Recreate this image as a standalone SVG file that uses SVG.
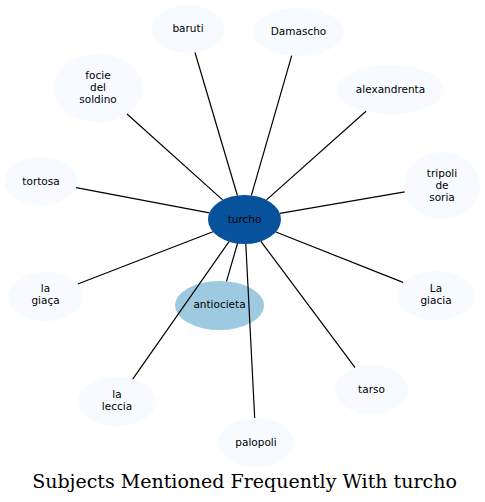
<svg xmlns="http://www.w3.org/2000/svg" width="485" height="502" viewBox="0 0 485 502">
<style>
.n ellipse{fill:#f7fbff;stroke:none}
.n text{font-family:"DejaVu Sans",sans-serif;font-size:10.5px;fill:#000;text-anchor:middle}
#edges line{stroke:#000;stroke-width:1.2}
.title{font-family:"DejaVu Serif",serif;font-size:19px;fill:#000;text-anchor:middle}
</style>
<rect width="485" height="502" fill="#fff"/>
<g id="node-turcho" class="n"><ellipse cx="244.5" cy="219.5" rx="36.5" ry="24.5" style="fill:#08519c"/><text x="244.5" y="223">turcho</text></g>
<g id="node-baruti" class="n"><ellipse cx="188" cy="29" rx="36" ry="24"/><text x="188" y="32">baruti</text></g>
<g id="node-damascho" class="n"><ellipse cx="298.5" cy="32" rx="45.5" ry="24"/><text x="298.5" y="35">Damascho</text></g>
<g id="node-focie" class="n"><ellipse cx="98" cy="88" rx="45" ry="34"/><text x="98" y="79">focie</text><text x="98" y="91">del</text><text x="98" y="103">soldino</text></g>
<g id="node-alexandrenta" class="n"><ellipse cx="390.5" cy="89.5" rx="53.5" ry="24.5"/><text x="390.5" y="93">alexandrenta</text></g>
<g id="node-tortosa" class="n"><ellipse cx="41" cy="181" rx="36.5" ry="24"/><text x="41" y="184.5">tortosa</text></g>
<g id="node-tripoli" class="n"><ellipse cx="442" cy="185.5" rx="38" ry="33.5"/><text x="442" y="177">tripoli</text><text x="442" y="189">de</text><text x="442" y="201">soria</text></g>
<g id="node-lagiaca" class="n"><ellipse cx="45.5" cy="296.5" rx="37.5" ry="24.5"/><text x="45.5" y="292">la</text><text x="45.5" y="304">giaça</text></g>
<g id="node-antiocieta" class="n"><ellipse cx="219.5" cy="305.5" rx="44.5" ry="24.5" style="fill:#9ecae1"/><text x="219.5" y="308">antiocieta</text></g>
<g id="node-lagiacia" class="n"><ellipse cx="436" cy="295.5" rx="39" ry="24.5"/><text x="436" y="292">La</text><text x="436" y="304">giacia</text></g>
<g id="node-laleccia" class="n"><ellipse cx="117" cy="401.5" rx="39" ry="24.5"/><text x="117" y="398">la</text><text x="117" y="410">leccia</text></g>
<g id="node-tarso" class="n"><ellipse cx="371.5" cy="389.5" rx="36.5" ry="24.5"/><text x="371.5" y="392.5">tarso</text></g>
<g id="node-palopoli" class="n"><ellipse cx="256" cy="442.5" rx="38" ry="24.5"/><text x="256" y="445.5">palopoli</text></g>
<g id="edges">
<line x1="237.4" y1="195.5" x2="195.0" y2="52.5"/>
<line x1="251.4" y1="195.4" x2="291.7" y2="55.7"/>
<line x1="222.6" y1="199.9" x2="127.0" y2="114.0"/>
<line x1="266.5" y1="199.9" x2="366.0" y2="111.3"/>
<line x1="209.4" y1="212.9" x2="76.1" y2="187.6"/>
<line x1="279.9" y1="213.4" x2="404.7" y2="191.9"/>
<line x1="212.9" y1="231.7" x2="77.8" y2="284.0"/>
<line x1="237.5" y1="243.5" x2="226.5" y2="281.3"/>
<line x1="229.0" y1="241.7" x2="132.7" y2="379.1"/>
<line x1="245.8" y1="244.0" x2="254.7" y2="418.0"/>
<line x1="260.9" y1="241.4" x2="355.1" y2="367.6"/>
<line x1="275.9" y1="232.0" x2="403.0" y2="282.4"/>
</g>
<text class="title" x="244.5" y="488">Subjects Mentioned Frequently With turcho</text>
</svg>
